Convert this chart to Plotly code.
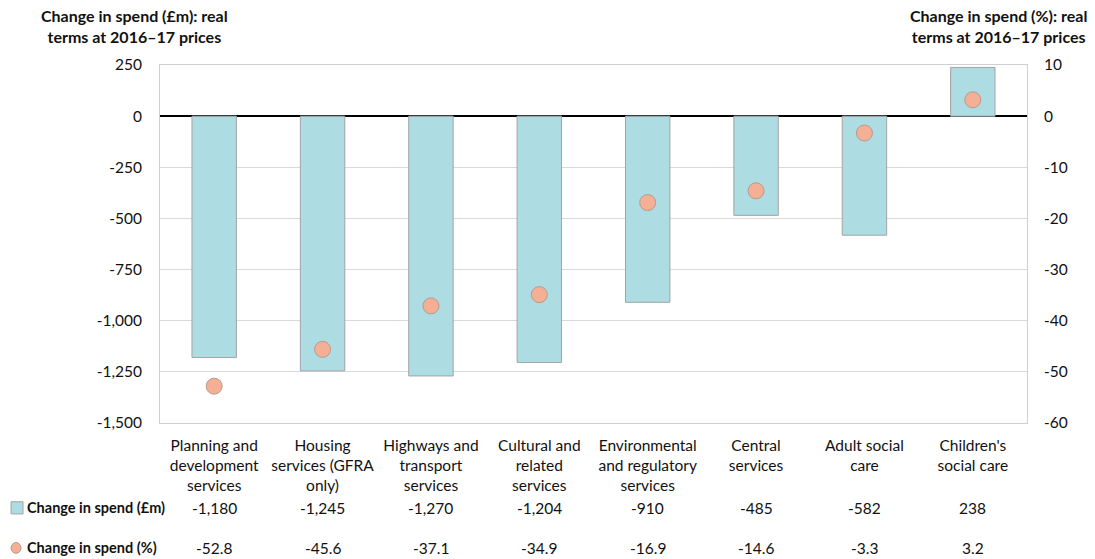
import plotly.graph_objects as go

categories = ["Planning and<br>development<br>services", "Housing<br>services (GFRA<br>only)",
              "Highways and<br>transport<br>services", "Cultural and<br>related<br>services",
              "Environmental<br>and regulatory<br>services", "Central<br>services",
              "Adult social<br>care", "Children's<br>social care"]
spend_m = [-1180, -1245, -1270, -1204, -910, -485, -582, 238]
spend_pct = [-52.8, -45.6, -37.1, -34.9, -16.9, -14.6, -3.3, 3.2]
left_ticks = [250, 0, -250, -500, -750, -1000, -1250, -1500]
left_ticktext = ["250", "0", "-250", "-500", "-750", "-1,000", "-1,250", "-1,500"]
right_ticks = [10, 0, -10, -20, -30, -40, -50, -60]
right_ticktext = ["10", "0", "-10", "-20", "-30", "-40", "-50", "-60"]

FONT = "Lato"
BAR_FILL = "#ADDDE3"
BAR_LINE = "#A3A3A3"
DOT_FILL = "#F5AF95"
DOT_LINE = "#B59A90"
GRID = "#D9D9D9"

fig = go.Figure()
fig.add_trace(go.Bar(x=categories, y=spend_m, width=0.41, marker=dict(color=BAR_FILL, line=dict(color=BAR_LINE, width=1)),
                     name="Change in spend (£m)", showlegend=False))
fig.add_trace(go.Scatter(x=categories, y=spend_pct, yaxis="y2", mode="markers",
                         marker=dict(size=16, color=DOT_FILL, line=dict(color=DOT_LINE, width=1)),
                         name="Change in spend (%)", showlegend=False))

# table rows
def fmt(v):
    return f"{v:,}"

for c, v, p in zip(categories, spend_m, spend_pct):
    fig.add_annotation(x=c, xref="x", y=-0.237, yref="paper", text=fmt(v), showarrow=False,
                       font=dict(size=15.5, family=FONT, color="#111"), yanchor="middle")
    fig.add_annotation(x=c, xref="x", y=-0.350, yref="paper", text=f"{p}", showarrow=False,
                       font=dict(size=15.5, family=FONT, color="#111"), yanchor="middle")

# legend-like row headers
fig.add_shape(type="rect", xref="paper", yref="paper", x0=-0.1718, x1=-0.1580, y0=-0.220, y1=-0.254,
              fillcolor=BAR_FILL, line=dict(color=BAR_LINE, width=1))
fig.add_shape(type="circle", xref="paper", yref="paper", x0=-0.1718, x1=-0.1603, y0=-0.334, y1=-0.364,
              fillcolor=DOT_FILL, line=dict(color=DOT_LINE, width=1))
fig.add_annotation(x=-0.1560, xref="paper", y=-0.237, yref="paper", yanchor="middle",
                   text="<b>Change in spend (£m)</b>",
                   showarrow=False, xanchor="left", font=dict(size=14.5, family=FONT, color="#111"))
fig.add_annotation(x=-0.1560, xref="paper", y=-0.349, yref="paper", yanchor="middle",
                   text="<b>Change in spend (%)</b>",
                   showarrow=False, xanchor="left", font=dict(size=14.5, family=FONT, color="#111"))

# axis titles
fig.add_annotation(x=-0.029, xref="paper", y=1.17, yref="paper", yanchor="top", xanchor="center",
                   text="<b>Change in spend (£m): real<br>terms at 2016–17 prices</b>", showarrow=False,
                   font=dict(size=16, family=FONT, color="#111"))
fig.add_annotation(x=1.072, xref="paper", y=1.17, yref="paper", yanchor="top", xanchor="right",
                   align="center",
                   text="<b>Change in spend (%): real<br>terms at 2016–17 prices</b>", showarrow=False,
                   font=dict(size=16, family=FONT, color="#111"))

fig.update_layout(
    width=1095, height=559,
    margin=dict(l=160, r=68, t=65, b=136),
    paper_bgcolor="white", plot_bgcolor="white",
    font=dict(family=FONT, size=15.5, color="#111"),
    xaxis=dict(showgrid=False, showline=True, linecolor="#CFCFCF", linewidth=1, mirror=True,
               ticks="", tickfont=dict(size=15.5, family=FONT), ticklabelstandoff=8),
    yaxis=dict(range=[-1500, 250], tickvals=left_ticks, ticktext=left_ticktext, showgrid=True,
               gridcolor=GRID, gridwidth=1, zeroline=True, zerolinecolor="#000", zerolinewidth=1.5,
               showline=True, linecolor="#CFCFCF", linewidth=1, ticks="", ticklabelstandoff=14,
               tickfont=dict(size=15.5, family=FONT)),
    yaxis2=dict(range=[-60, 10], tickvals=right_ticks, ticktext=right_ticktext, overlaying="y",
                side="right", showgrid=False,
                zeroline=False, showline=True, linecolor="#CFCFCF", linewidth=1, ticks="",
                ticklabelstandoff=13, tickfont=dict(size=15.5, family=FONT)),
)

fig.write_html("out.html", config={"displayModeBar": False})
with open("out.html", encoding="utf-8") as f:
    html = f.read()
html = html.replace("<head>", "<head><style>html,body{margin:0;padding:0;overflow:hidden}</style>", 1)
with open("out.html", "w", encoding="utf-8") as f:
    f.write(html)
